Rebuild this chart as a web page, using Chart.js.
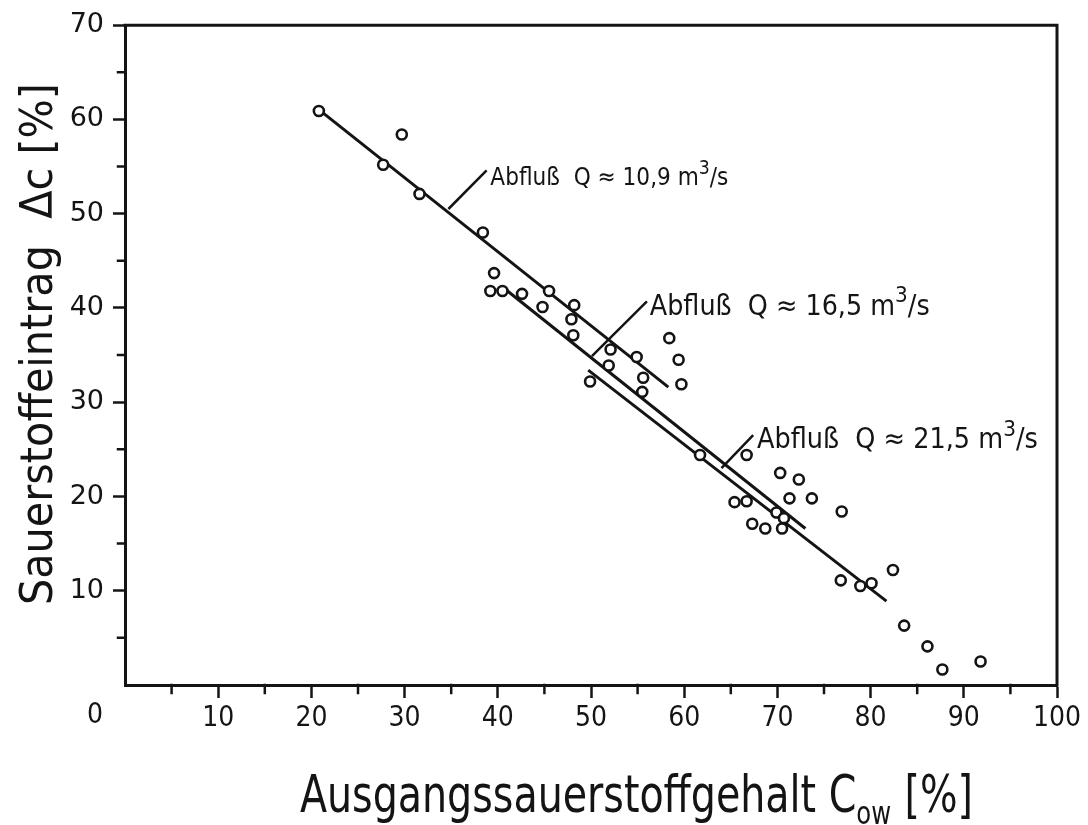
<!DOCTYPE html>
<html lang="de">
<head>
<meta charset="utf-8">
<title>Sauerstoffeintrag</title>
<script src="https://cdn.jsdelivr.net/npm/chart.js@4.4.1/dist/chart.umd.min.js"></script>
<style>
  html, body { margin: 0; padding: 0; background: #fff; }
  #wrap { width: 1088px; height: 825px; }
</style>
</head>
<body>
<div id="wrap"><canvas id="chart" width="1088" height="825"></canvas></div>
<script>
// Messpunkte: Ausgangssauerstoffgehalt C_ow [%] / Sauerstoffeintrag dc [%]
const cowValues = [20.8, 27.7, 29.7, 31.6, 38.4, 39.6, 39.2, 40.5, 42.6, 44.8,
                   45.5, 48.2, 47.9, 48.1, 49.9, 51.9, 52.1, 54.9, 55.6, 55.5,
                   58.4, 59.4, 59.7, 61.7, 66.7, 70.3, 72.3, 65.4, 66.7, 71.3,
                   73.7, 76.9, 69.9, 70.7, 67.3, 68.7, 70.5, 76.8, 78.9, 80.1,
                   82.4, 83.6, 86.1, 87.7, 91.8];
const dcValues  = [60.9, 55.2, 58.4, 52.1, 48.0, 43.7, 41.8, 41.8, 41.5, 40.1,
                   41.8, 40.3, 38.8, 37.1, 32.2, 33.9, 35.6, 34.8, 32.6, 31.1,
                   36.8, 34.5, 31.9, 24.4, 24.4, 22.5, 21.8, 19.4, 19.5, 19.8,
                   19.8, 18.4, 18.3, 17.7, 17.1, 16.6, 16.6, 11.1, 10.5, 10.8,
                   12.2, 6.3, 4.1, 1.65, 2.5];

// Ausgleichsgeraden (Anfang / Ende)
const fit109X = [20.8, 58.3];  const fit109Y = [61.05, 31.6];
const fit165X = [40.4, 73.0];  const fit165Y = [42.3, 16.6];
const fit215X = [49.7, 81.7];  const fit215Y = [33.4, 8.9];

// Hinweislinien zu den Beschriftungen
const ptr109X = [38.8, 34.7];  const ptr109Y = [54.6, 50.5];
const ptr165X = [56.0, 50.1];  const ptr165Y = [40.7, 34.9];
const ptr215X = [67.4, 64.0];  const ptr215Y = [26.5, 23.0];

// Achsen
const xTicks = [10, 20, 30, 40, 50, 60, 70, 80, 90, 100];
const yTicks = [10, 20, 30, 40, 50, 60, 70];
const xTitle = 'Ausgangssauerstoffgehalt C';
const xTitleSub = 'ow';
const xTitleUnit = '[%]';
const yTitle = 'Sauerstoffeintrag  Δc [%]';

// Beschriftungen der Geraden (Anker in Achsenwerten)
const notes = [
  { q: '10,9', x: 39.2, y: 53.0, size: 25, width: 238 },
  { q: '16,5', x: 56.3, y: 39.3, size: 28, width: 280 },
  { q: '21,5', x: 67.8, y: 25.1, size: 28, width: 281 }
];

const INK = '#141414';
const NARROW = "'Liberation Sans Narrow', 'DejaVu Sans Condensed', 'Roboto Condensed', sans-serif";
const ROUND = "'DejaVu Sans', 'Noto Sans', sans-serif";

const pairs = (xs, ys) => xs.map((x, i) => ({ x: x, y: ys[i] }));

function lineSet(xs, ys, w) {
  return {
    type: 'line', data: pairs(xs, ys), showLine: true, order: 1,
    borderColor: INK, borderWidth: w, pointRadius: 0, fill: false, tension: 0
  };
}

// Text mit fester Breite (horizontal gestaucht)
function drawParts(ctx, parts, x, y, width) {
  let total = 0;
  parts.forEach(p => { ctx.font = p.font; p.w = ctx.measureText(p.t).width; total += p.w + (p.gap || 0); });
  const k = width / total;
  ctx.save();
  ctx.translate(x, y);
  ctx.scale(k, 1);
  let cx = 0;
  parts.forEach(p => {
    cx += p.gap || 0;
    ctx.font = p.font;
    ctx.fillText(p.t, cx, p.dy || 0);
    cx += p.w;
  });
  ctx.restore();
}

const paperPlugin = {
  id: 'paper',
  afterDraw(chart) {
    const ctx = chart.ctx;
    const a = chart.chartArea;
    const xs = chart.scales.x, ys = chart.scales.y;
    ctx.save();
    ctx.strokeStyle = INK;
    ctx.fillStyle = INK;
    ctx.lineCap = 'square';

    // Rahmen oben und rechts
    ctx.lineWidth = 3;
    ctx.beginPath();
    ctx.moveTo(a.left, a.top);
    ctx.lineTo(a.right, a.top);
    ctx.lineTo(a.right, a.bottom);
    ctx.stroke();

    // Zwischenstriche bei 5er-Werten
    ctx.lineWidth = 2.5;
    ctx.beginPath();
    for (let v = 5; v < 100; v += 10) {
      const px = xs.getPixelForValue(v);
      ctx.moveTo(px, a.bottom); ctx.lineTo(px, a.bottom + 8);
    }
    for (let v = 5; v < 70; v += 10) {
      const py = ys.getPixelForValue(v);
      ctx.moveTo(a.left, py); ctx.lineTo(a.left - 7, py);
    }
    ctx.stroke();

    // "0" in der Ecke
    ctx.font = '28px ' + NARROW;
    ctx.textAlign = 'center';
    ctx.textBaseline = 'top';
    ctx.fillText('0', xs.getPixelForValue(0) - 30, a.bottom + 17);

    // Achsentitel x
    ctx.textAlign = 'left';
    ctx.textBaseline = 'alphabetic';
    drawParts(ctx, [
      { t: xTitle, font: '52px ' + NARROW },
      { t: xTitleSub, font: '32px ' + NARROW, dy: 12 },
      { t: xTitleUnit, font: '52px ' + NARROW, gap: 16 }
    ], 300, 812, 673);

    // Achsentitel y
    ctx.save();
    ctx.translate(52, 605);
    ctx.rotate(-Math.PI / 2);
    drawParts(ctx, [{ t: yTitle, font: '44px ' + ROUND }], 0, 0, 522);
    ctx.restore();

    // Beschriftungen der Geraden
    notes.forEach(n => {
      const px = xs.getPixelForValue(n.x), py = ys.getPixelForValue(n.y);
      const f = n.size + 'px ' + ROUND, fs = Math.round(n.size * 0.8) + 'px ' + ROUND;
      drawParts(ctx, [
        { t: 'Abfluß  Q ≈ ' + n.q + ' m', font: f },
        { t: '3', font: fs, dy: -n.size * 0.45 },
        { t: '/s', font: f }
      ], px, py, n.width);
    });
    ctx.restore();
  }
};

const majorOnly = (list) => (c) => list.includes(c.tick.value) ? INK : 'rgba(0,0,0,0)';

new Chart(document.getElementById('chart'), {
  type: 'scatter',
  data: {
    datasets: [
      {
        data: pairs(cowValues, dcValues), order: 0,
        pointStyle: 'circle', pointRadius: 5, pointBorderWidth: 2.6,
        pointBackgroundColor: '#fff', pointBorderColor: INK
      },
      lineSet(fit109X, fit109Y, 3),
      lineSet(fit165X, fit165Y, 3),
      lineSet(fit215X, fit215Y, 3),
      lineSet(ptr109X, ptr109Y, 2.5),
      lineSet(ptr165X, ptr165Y, 2.5),
      lineSet(ptr215X, ptr215Y, 2.5)
    ]
  },
  options: {
    responsive: false,
    animation: false,
    devicePixelRatio: 1,
    layout: { padding: { left: 0, right: 31, top: 20, bottom: 0 } },
    plugins: { legend: { display: false }, tooltip: { enabled: false } },
    scales: {
      x: {
        type: 'linear', min: 0, max: 100,
        afterFit: (s) => { s.height = 140; },
        border: { color: INK, width: 3 },
        grid: { drawOnChartArea: false, tickLength: 13, tickWidth: 2.5, tickColor: majorOnly(xTicks) },
        ticks: {
          stepSize: 5, autoSkip: false, maxRotation: 0, padding: 4, color: INK,
          font: { family: NARROW, size: 28 },
          callback: (v) => xTicks.includes(v) ? String(v) : ''
        }
      },
      y: {
        type: 'linear', min: 0, max: 70,
        afterFit: (s) => { s.width = 125; },
        border: { color: INK, width: 3 },
        grid: { drawOnChartArea: false, tickLength: 12, tickWidth: 2.5, tickColor: majorOnly(yTicks) },
        ticks: {
          stepSize: 5, autoSkip: false, padding: 9, color: INK,
          font: { family: ROUND, size: 27 },
          callback: (v) => yTicks.includes(v) ? String(v) : ''
        }
      }
    }
  },
  plugins: [paperPlugin]
});
</script>
</body>
</html>
